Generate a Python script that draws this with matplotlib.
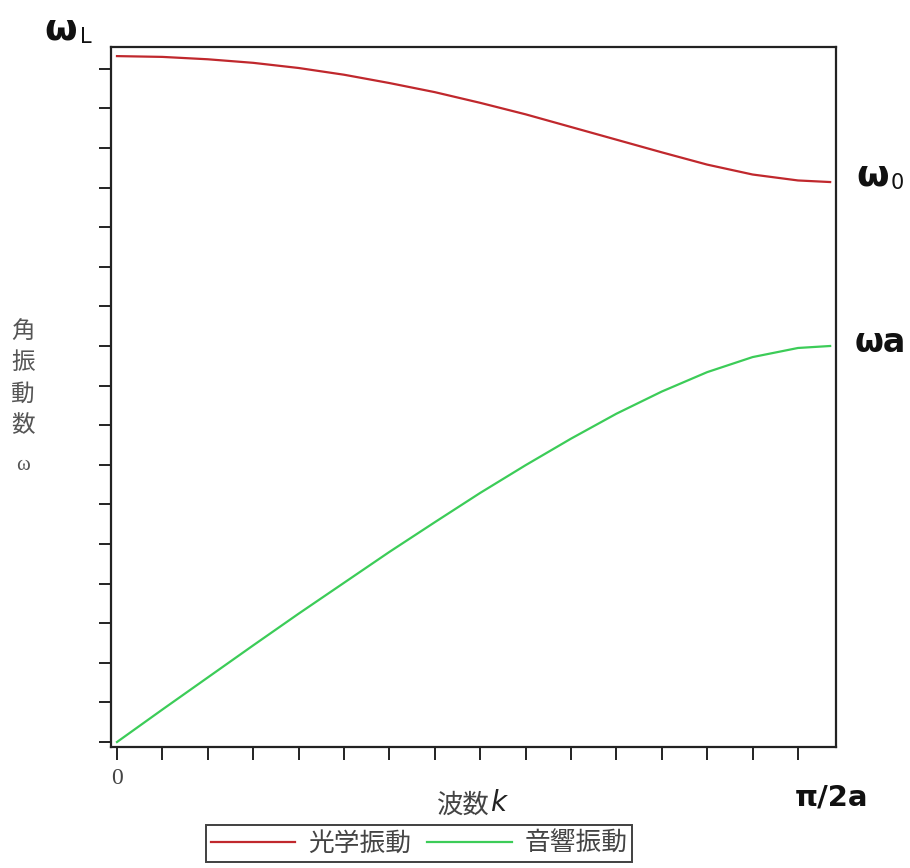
import matplotlib
matplotlib.use("Agg")
import matplotlib.pyplot as plt
import numpy as np

plt.rcParams['font.family'] = ['Noto Sans CJK JP', 'DejaVu Sans']

# wave number k*a from 0 to pi/2
k = [0.0, 0.1, 0.2, 0.3, 0.4, 0.5, 0.6, 0.7, 0.8, 0.9,
     1.0, 1.1, 1.2, 1.3, 1.4, 1.5, 1.5708]
optical = [17.32, 17.30, 17.24, 17.15, 17.02, 16.85, 16.64, 16.41, 16.14,
           15.85, 15.53, 15.21, 14.89, 14.58, 14.33, 14.18, 14.14]
acoustic = [0.00, 0.82, 1.63, 2.44, 3.24, 4.02, 4.80, 5.55, 6.29,
            6.99, 7.66, 8.29, 8.85, 9.34, 9.72, 9.95, 10.00]
series_names = ['光学振動', '音響振動']
ylabel_chars = ['角', '振', '動', '数']

W, H = 910, 868
fig = plt.figure(figsize=(W / 100, H / 100), dpi=100)
ax = fig.add_axes([111 / W, 1 - 747 / H, (836 - 111) / W, (747 - 47) / H])

red = '#c0282d'
green = '#3ccc58'
ax.plot(k, optical, color=red, lw=1.6, label=series_names[0])
ax.plot(k, acoustic, color=green, lw=1.6, label=series_names[1])

ax.set_xlim(-0.0132, 1.5837)
ax.set_ylim(-0.126, 17.55)
ax.set_xticks(np.arange(0, 1.51, 0.1))
ax.set_xticklabels([''] * 16)
ax.set_yticks(np.arange(0, 18, 1))
ax.set_yticklabels([])
ax.tick_params(direction='out', length=9, width=1.4, color='#222222')
for sp in ax.spines.values():
    sp.set_linewidth(1.6)
    sp.set_color('#222222')

# axis annotations
def ptext(x, y, s, **kw):
    fig.text(x / W, 1 - y / H, s, **kw)

dark = '#111111'
ptext(44, 30, 'ω', fontsize=27, color=dark, family='DejaVu Sans',
      ha='left', va='center', fontweight='bold')
ptext(80, 37, 'L', fontsize=15, color=dark, family='DejaVu Sans',
      ha='left', va='center')
ptext(856, 176, 'ω', fontsize=27, color=dark, family='DejaVu Sans',
      ha='left', va='center', fontweight='bold')
ptext(891, 183, '0', fontsize=15, color=dark, family='DejaVu Sans',
      ha='left', va='center')
ptext(855, 343, 'ωa', fontsize=24, color=dark, family='DejaVu Sans',
      ha='left', va='center', fontweight='bold')
ptext(832, 797, 'π/2a', fontsize=21, color=dark, family='DejaVu Sans',
      ha='center', va='center', fontweight='bold')
ptext(117, 778, '0', fontsize=17, color='#444444', family='Liberation Serif',
      ha='center', va='center')

ptext(490, 805, '波数', fontsize=19, color='#444444', ha='right',
      va='center', style='italic')
ptext(490, 803, 'k', fontsize=20, color='#222222', family='DejaVu Sans',
      ha='left', va='center', style='italic')

gray = '#555555'
for i, ch in enumerate(ylabel_chars):
    ptext(23, 331 + i * 31.5, ch, fontsize=17, color=gray, ha='center', va='center')
ptext(23, 465, 'ω', fontsize=15, color=gray, family='Liberation Serif',
      ha='center', va='center')

leg = fig.legend(loc='center', bbox_to_anchor=(419 / W, 1 - 843.5 / H),
                 ncol=2, fontsize=18.5, frameon=True, fancybox=False,
                 handlelength=3.3, handletextpad=0.5, columnspacing=0.6,
                 borderpad=0.2, borderaxespad=0)
leg.get_frame().set_edgecolor('#111111')
leg.get_frame().set_linewidth(1.4)
for t in leg.get_texts():
    t.set_color('#444444')

fig.savefig('out.png', dpi=100)
